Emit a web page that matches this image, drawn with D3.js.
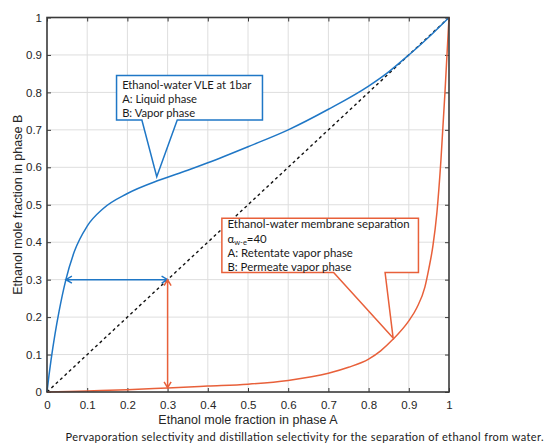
<!DOCTYPE html>
<html>
<head>
<meta charset="utf-8">
<script src="https://cdn.jsdelivr.net/npm/d3@7"></script>
<style>
  body { margin: 0; background: #fff; }
  svg { display: block; }
</style>
</head>
<body>
<svg id="chart" width="546" height="443"></svg>
<script>
// ethanol-water VLE at 1 bar (liquid x -> vapour y)
const vleX = [0, 0.005, 0.01, 0.02, 0.03, 0.047, 0.068, 0.1, 0.14, 0.2, 0.28, 0.35, 0.4, 0.5, 0.6, 0.7, 0.8, 0.85, 0.9, 0.95, 1];
const vleY = [0, 0.045, 0.085, 0.155, 0.215, 0.3, 0.375, 0.443, 0.49, 0.53, 0.566, 0.592, 0.612, 0.655, 0.7, 0.755, 0.817, 0.855, 0.9, 0.948, 1];

// membrane separation, alpha w-e = 40 (retentate -> permeate)
const memX = [0, 0.1, 0.2, 0.3, 0.4, 0.5, 0.6, 0.7, 0.75, 0.8, 0.83, 0.86, 0.9, 0.92, 0.94, 0.95, 0.96, 0.97, 0.98, 0.99, 1];
const memY = [0, 0.003, 0.006, 0.011, 0.016, 0.021, 0.031, 0.05, 0.066, 0.088, 0.11, 0.14, 0.19, 0.225, 0.28, 0.33, 0.39, 0.48, 0.62, 0.8, 1];

// y = x reference
const diagX = [0, 1];
const diagY = [0, 1];

const tickValues = [0, 0.1, 0.2, 0.3, 0.4, 0.5, 0.6, 0.7, 0.8, 0.9, 1];
const tickLabels = ["0", "0.1", "0.2", "0.3", "0.4", "0.5", "0.6", "0.7", "0.8", "0.9", "1"];

// double arrows: blue horizontal at y=0.3, orange vertical at x=0.3
const arrowBlue = { x0: 0.047, x1: 0.3, y: 0.3 };
const arrowOrange = { x: 0.3, y0: 0.3, y1: 0.011 };

const vleNote = ["Ethanol-water VLE at 1bar", "A: Liquid phase", "B: Vapor phase"];
const memNote = ["Ethanol-water membrane separation", "ALPHA", "A: Retentate vapor phase", "B: Permeate vapor phase"];

// callout boxes in data units: [x0, x1, yTop, yBottom], pointer base [xa, xb], tip [x, y]
const vleBox = { x0: 0.173, x1: 0.536, top: 0.845, bottom: 0.726, baseA: 0.236, baseB: 0.324, tipX: 0.273, tipY: 0.575 };
const memBox = { x0: 0.435, x1: 0.924, top: 0.464, bottom: 0.319, baseA: 0.713, baseB: 0.841, tipX: 0.861, tipY: 0.144 };

const xLabel = "Ethanol mole fraction in phase A";
const yLabel = "Ethanol mole fraction in phase B";
const caption = "Pervaporation selectivity and distillation selectivity for the separation of ethanol from water.";

const W = 546, H = 443;
const margin = { top: 17.5, left: 47, right: 97, bottom: 51 };
const plotW = W - margin.left - margin.right;
const plotH = H - margin.top - margin.bottom;

const BLUE = "#1f77c6";
const ORANGE = "#e8603a";
const AXIS = "#3a3a3a";
const TXT = "#262626";
const NOTE_FONT = "Lato, 'Open Sans', sans-serif";

const x = d3.scaleLinear().domain([0, 1]).range([0, plotW]);
const y = d3.scaleLinear().domain([0, 1]).range([plotH, 0]);

const svg = d3.select("#chart");
const g = svg.append("g").attr("transform", `translate(${margin.left},${margin.top})`);

// grid
g.append("g")
  .selectAll("line.vg")
  .data(tickValues.slice(1, -1))
  .join("line")
  .attr("x1", (d) => x(d)).attr("x2", (d) => x(d))
  .attr("y1", 0).attr("y2", plotH)
  .attr("stroke", "#dedede").attr("stroke-width", 1);
g.append("g")
  .selectAll("line.hg")
  .data(tickValues.slice(1, -1))
  .join("line")
  .attr("x1", 0).attr("x2", plotW)
  .attr("y1", (d) => y(d)).attr("y2", (d) => y(d))
  .attr("stroke", "#dedede").attr("stroke-width", 1);

const fmt = (d) => tickLabels[tickValues.indexOf(d)];

const styleAxis = (sel) => {
  sel.select(".domain").remove();
  sel.selectAll("line").attr("stroke", AXIS).attr("stroke-width", 1);
  sel.selectAll("text").attr("fill", TXT).attr("font-size", "11.5px").attr("font-family", "Liberation Sans, Arial, sans-serif");
};

g.append("g")
  .attr("transform", `translate(0,${plotH})`)
  .call(d3.axisBottom(x).tickValues(tickValues).tickFormat(fmt).tickSize(-4).tickPadding(9))
  .call(styleAxis);
g.append("g")
  .call(d3.axisTop(x).tickValues(tickValues).tickFormat("").tickSize(-4))
  .call(styleAxis);
g.append("g")
  .call(d3.axisLeft(y).tickValues(tickValues).tickFormat(fmt).tickSize(-4).tickPadding(5))
  .call(styleAxis);
g.append("g")
  .attr("transform", `translate(${plotW},0)`)
  .call(d3.axisRight(y).tickValues(tickValues).tickFormat("").tickSize(-4))
  .call(styleAxis);

// diagonal
const line = d3.line().x((d) => x(d[0])).y((d) => y(d[1]));
g.append("path")
  .datum(d3.zip(diagX, diagY))
  .attr("fill", "none")
  .attr("stroke", "#111")
  .attr("stroke-width", 1.4)
  .attr("stroke-dasharray", "3,3")
  .attr("d", line);

const curve = d3.line().x((d) => x(d[0])).y((d) => y(d[1])).curve(d3.curveMonotoneX);

g.append("path")
  .datum(d3.zip(vleX, vleY))
  .attr("fill", "none")
  .attr("stroke", BLUE)
  .attr("stroke-width", 1.5)
  .attr("d", curve);

g.append("path")
  .datum(d3.zip(memX, memY))
  .attr("fill", "none")
  .attr("stroke", ORANGE)
  .attr("stroke-width", 1.5)
  .attr("d", curve);

// double arrows with open heads
const head = 6, half = 3.5;
function doubleArrow(x1, y1, x2, y2, color) {
  const dx = x2 - x1, dy = y2 - y1;
  const len = Math.hypot(dx, dy);
  const ux = dx / len, uy = dy / len;
  const px = -uy, py = ux;
  const p = d3.path();
  p.moveTo(x1, y1); p.lineTo(x2, y2);
  p.moveTo(x2 - ux * head + px * half, y2 - uy * head + py * half);
  p.lineTo(x2, y2);
  p.lineTo(x2 - ux * head - px * half, y2 - uy * head - py * half);
  p.moveTo(x1 + ux * head + px * half, y1 + uy * head + py * half);
  p.lineTo(x1, y1);
  p.lineTo(x1 + ux * head - px * half, y1 + uy * head - py * half);
  g.append("path").attr("d", p.toString()).attr("fill", "none")
    .attr("stroke", color).attr("stroke-width", 1.5);
}
doubleArrow(x(arrowBlue.x0), y(arrowBlue.y), x(arrowBlue.x1), y(arrowBlue.y), BLUE);
doubleArrow(x(arrowOrange.x), y(arrowOrange.y0), x(arrowOrange.x), y(arrowOrange.y1), ORANGE);

// axes box
g.append("rect")
  .attr("width", plotW).attr("height", plotH)
  .attr("fill", "none").attr("stroke", AXIS).attr("stroke-width", 1.6);

// callouts
function callout(b, color) {
  const pts = [
    [b.x0, b.top], [b.x1, b.top], [b.x1, b.bottom], [b.baseB, b.bottom],
    [b.tipX, b.tipY], [b.baseA, b.bottom], [b.x0, b.bottom]
  ].map((d) => [x(d[0]), y(d[1])]);
  g.append("path")
    .attr("d", "M" + pts.join("L") + "Z")
    .attr("fill", "#fff")
    .attr("stroke", color)
    .attr("stroke-width", 1.5);
}
callout(vleBox, BLUE);
callout(memBox, ORANGE);

const vleText = g.append("text")
  .attr("font-family", NOTE_FONT).attr("font-size", "11.2px").attr("fill", "#1a1a1a");
vleNote.forEach((t, i) => {
  vleText.append("tspan").attr("x", x(vleBox.x0) + 5.6).attr("y", y(vleBox.top) + 13.4 + i * 14.1).text(t);
});

const memText = g.append("text")
  .attr("font-family", NOTE_FONT).attr("font-size", "11.4px").attr("fill", "#1a1a1a");
memNote.forEach((t, i) => {
  const ty = y(memBox.top) + 10 + i * 14.3;
  if (t === "ALPHA") {
    const ln = memText.append("tspan").attr("x", x(memBox.x0) + 5.6).attr("y", ty);
    ln.text("\u03b1");
    memText.append("tspan").attr("font-size", "7.5px").attr("dy", 2.5).text("w-e");
    memText.append("tspan").attr("dy", -2.5).text("=40");
  } else {
    memText.append("tspan").attr("x", x(memBox.x0) + 5.6).attr("y", ty).text(t);
  }
});

// axis labels
svg.append("text")
  .attr("x", margin.left + plotW / 2)
  .attr("y", 424)
  .attr("text-anchor", "middle")
  .attr("font-family", "Liberation Sans, Arial, sans-serif")
  .attr("font-size", "12.5px")
  .attr("fill", TXT)
  .text(xLabel);

svg.append("text")
  .attr("transform", `translate(22,${margin.top + plotH / 2}) rotate(-90)`)
  .attr("text-anchor", "middle")
  .attr("font-family", "Liberation Sans, Arial, sans-serif")
  .attr("font-size", "12.5px")
  .attr("fill", TXT)
  .text(yLabel);

svg.append("text")
  .attr("x", 65.5)
  .attr("y", 441)
  .attr("font-family", NOTE_FONT)
  .attr("font-size", "11px")
  .attr("fill", "#1a1a1a")
  .attr("textLength", 478)
  .attr("lengthAdjust", "spacing")
  .text(caption);
</script>
</body>
</html>
